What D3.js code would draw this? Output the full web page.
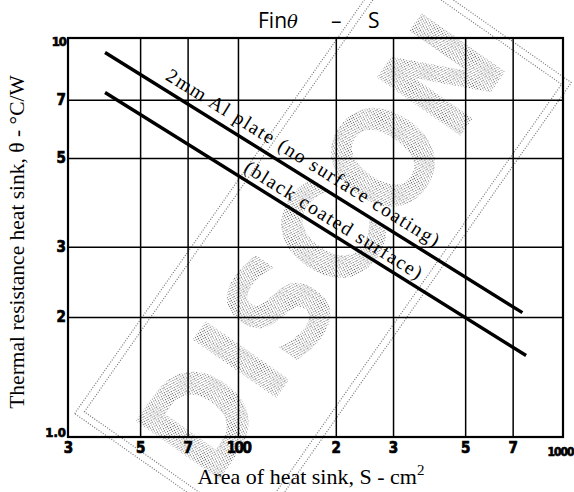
<!DOCTYPE html>
<html>
<head>
<meta charset="utf-8">
<script src="https://cdn.jsdelivr.net/npm/d3@7"></script>
<style>
  body { margin: 0; background: #fff; }
  svg { display: block; }
</style>
</head>
<body>
<svg id="chart"></svg>
<script>
const width = 574, height = 492;
const margin = {top: 38, right: 11, bottom: 55, left: 68};

// axis ticks (area in cm^2, theta in degC/W)
const areaTicks = [30, 50, 70, 100, 200, 300, 500, 700, 1000];
const areaTickLabels = ["3", "5", "7", "100", "2", "3", "5", "7", "1000"];
const thetaTicks = [1, 2, 3, 5, 7, 10];
const thetaTickLabels = ["1.0", "2", "3", "5", "7", "10"];

// the two curves (end points)
const plainArea = [39, 750];
const plainTheta = [9.2, 2.05];
const blackArea = [39, 770];
const blackTheta = [7.3, 1.6];

const x = d3.scaleLog()
    .domain([30, 1000])
    .range([margin.left, width - margin.right]);

const y = d3.scaleLog()
    .domain([1, 10])
    .range([height - margin.bottom, margin.top]);

const svg = d3.select("#chart")
    .attr("viewBox", [0, 0, width, height])
    .attr("width", width)
    .attr("height", height);

// stippled "DISCON" stamp behind the chart
const defs = svg.append("defs");
const pat = defs.append("pattern")
    .attr("id", "stipple")
    .attr("patternUnits", "userSpaceOnUse")
    .attr("width", 5).attr("height", 5);
[[0, 0, "#555"], [2, 1, "#888"], [4, 2, "#666"], [1, 3, "#999"], [3, 4, "#777"], [3, 2, "#bbb"]]
    .forEach(([px, py, c]) => pat.append("rect")
        .attr("x", px).attr("y", py).attr("width", 1).attr("height", 1).attr("fill", c));

const stamp = svg.append("g")
    .attr("transform", `translate(${x(180)},${y(3.0)}) rotate(-55)`);

stamp.selectAll("rect")
    .data([0, 7])
    .join("rect")
    .attr("x", d => -278 + d)
    .attr("y", d => -106 + d)
    .attr("width", d => 556 - 2 * d)
    .attr("height", d => 217 - 2 * d)
    .attr("fill", "none")
    .attr("stroke", "#777")
    .attr("stroke-width", 1.2)
    .attr("stroke-dasharray", "1 1.6");

stamp.append("text")
    .attr("text-anchor", "middle")
    .attr("dy", "0.36em")
    .attr("font-family", "DejaVu Sans")
    .attr("font-weight", "bold")
    .attr("font-size", 140)
    .attr("textLength", 520)
    .attr("lengthAdjust", "spacingAndGlyphs")
    .attr("fill", "url(#stipple)")
    .text("DISCON");

// grid
const plotH = y(1) - y(10);
const plotW = x(1000) - x(30);

svg.append("g")
    .attr("transform", `translate(0,${y(1)})`)
    .call(d3.axisBottom(x).tickValues(areaTicks.slice(1, -1)).tickSize(-plotH).tickFormat(""))
    .call(g => g.select(".domain").remove())
    .call(g => g.selectAll("line").attr("stroke", "#000").attr("stroke-width", 1.5));

svg.append("g")
    .attr("transform", `translate(${x(30)},0)`)
    .call(d3.axisLeft(y).tickValues(thetaTicks.slice(1, -1)).tickSize(-plotW).tickFormat(""))
    .call(g => g.select(".domain").remove())
    .call(g => g.selectAll("line").attr("stroke", "#000").attr("stroke-width", 1.5));

svg.append("rect")
    .attr("x", x(30)).attr("y", y(10))
    .attr("width", plotW).attr("height", plotH)
    .attr("fill", "none")
    .attr("stroke", "#000")
    .attr("stroke-width", 2.2);

// tick labels
const tickFont = "'DejaVu Sans Condensed', 'DejaVu Sans', sans-serif";

function heavy(sel, size) {
    sel.attr("font-family", tickFont)
        .attr("font-weight", "bold")
        .attr("font-size", size)
        .attr("fill", "#000")
        .attr("stroke", "#000")
        .attr("stroke-width", 0.7);
}

svg.append("g")
    .attr("transform", `translate(0,${y(1)})`)
    .call(d3.axisBottom(x).tickValues(areaTicks).tickSize(0).tickPadding(5)
        .tickFormat((d, i) => areaTickLabels[i]))
    .call(g => g.select(".domain").remove())
    .call(g => heavy(g.selectAll("text"), 15))
    .call(g => g.selectAll("text").filter(d => d === 100).attr("font-size", 15).attr("letter-spacing", -1.5))
    .call(g => g.selectAll("text").filter(d => d === 1000)
        .attr("font-size", 12).attr("dy", "1.15em").attr("dx", -3).attr("letter-spacing", -1));

svg.append("g")
    .attr("transform", `translate(${x(30)},0)`)
    .call(d3.axisLeft(y).tickValues(thetaTicks).tickSize(0).tickPadding(2)
        .tickFormat((d, i) => thetaTickLabels[i]))
    .call(g => g.select(".domain").remove())
    .call(g => heavy(g.selectAll("text"), 15))
    .call(g => g.selectAll(".tick").filter(d => d === 10).select("text")
        .attr("dy", "0.6em").attr("font-size", 13).attr("letter-spacing", -1))
    .call(g => g.selectAll(".tick").filter(d => d === 1).select("text")
        .attr("dy", "-0.05em").attr("font-size", 13));

// curves
const line = d3.line()
    .x(d => x(d[0]))
    .y(d => y(d[1]));

const curves = [
    d3.zip(plainArea, plainTheta),
    d3.zip(blackArea, blackTheta)
];

svg.append("g")
    .selectAll("path")
    .data(curves)
    .join("path")
    .attr("fill", "none")
    .attr("stroke", "#000")
    .attr("stroke-width", 3.4)
    .attr("d", line);

// labels along the curves
function along(areas, thetas, at, offset) {
    const x0 = x(areas[0]), y0 = y(thetas[0]);
    const x1 = x(areas[1]), y1 = y(thetas[1]);
    const ang = Math.atan2(y1 - y0, x1 - x0);
    const px = x(at);
    const py = y0 + (px - x0) / (x1 - x0) * (y1 - y0);
    return [px + offset * Math.sin(ang), py - offset * Math.cos(ang), ang * 180 / Math.PI];
}

const annFont = "'Liberation Serif', 'Times New Roman', serif";

const a1 = along(plainArea, plainTheta, 57.5, 9);
svg.append("text")
    .attr("transform", `translate(${a1[0]},${a1[1]}) rotate(${a1[2]})`)
    .attr("font-family", annFont)
    .attr("font-size", 19.5)
    .attr("letter-spacing", 1.6)
    .text("2mm Al plate (no surface coating)");

const a2 = along(blackArea, blackTheta, 101, 6.5);
svg.append("text")
    .attr("transform", `translate(${a2[0]},${a2[1]}) rotate(${a2[2]})`)
    .attr("font-family", annFont)
    .attr("font-size", 19.5)
    .attr("letter-spacing", 1.6)
    .text("(black coated surface)");

// title
const title = svg.append("text")
    .attr("y", 28)
    .attr("font-family", "'Open Sans', sans-serif")
    .attr("font-size", 21)
    .attr("fill", "#000");
title.append("tspan").attr("x", 258).text("Fin");
title.append("tspan").attr("font-style", "italic").attr("font-family", "'DejaVu Serif', serif").attr("font-size", 18).text("θ");
title.append("tspan").attr("x", 331).text("–");
title.append("tspan").attr("x", 368).text("S");

// axis titles
svg.append("text")
    .attr("x", 311)
    .attr("y", 484)
    .attr("text-anchor", "middle")
    .attr("font-family", annFont)
    .attr("font-size", 22)
    .call(t => t.append("tspan").text("Area of heat sink, S - cm"))
    .call(t => t.append("tspan").attr("font-size", 15).attr("dy", -9).text("2"));

svg.append("text")
    .attr("transform", `translate(24,242) rotate(-90)`)
    .attr("text-anchor", "middle")
    .attr("font-family", annFont)
    .attr("font-size", 21.5)
    .text("Thermal resistance heat sink, θ - °C/W");
</script>
</body>
</html>
